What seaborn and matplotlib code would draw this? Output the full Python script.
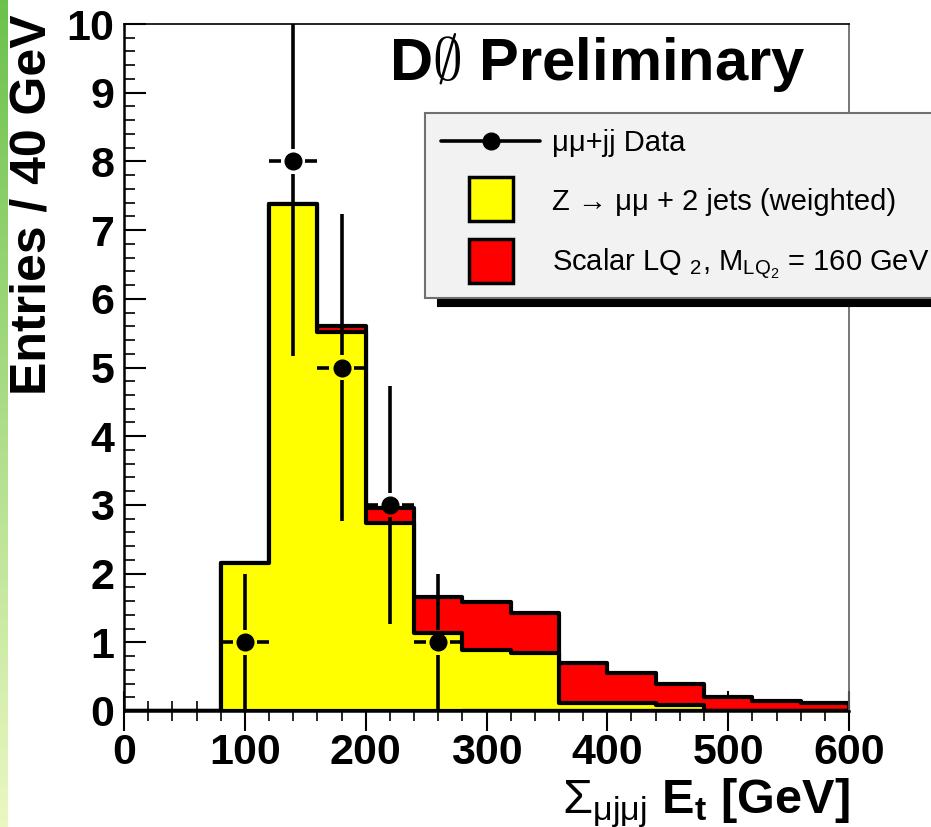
import numpy as np
import matplotlib
matplotlib.use('Agg')
import matplotlib.pyplot as plt
from matplotlib.lines import Line2D
from matplotlib.ticker import MultipleLocator
import seaborn as sns

# histogram contents, 40 GeV bins
bin_edges = [0, 40, 80, 120, 160, 200, 240, 280, 320, 360, 400, 440, 480, 520, 560, 600]
z_jets = [0.0, 0.0, 2.16, 7.38, 5.52, 2.73, 1.14, 0.89, 0.845, 0.12, 0.12, 0.09, 0.0, 0.0, 0.0]
lq_signal = [0.0, 0.0, 0.0, 0.0, 0.09, 0.22, 0.52, 0.70, 0.585, 0.58, 0.44, 0.31, 0.20, 0.14, 0.12]
other_edges = [280, 320, 360, 400, 440, 480, 520, 560, 600]
other_bkg = [0.0, 0.0, 0.0, 0.0, 0.0, 0.0, 0.0, 0.0]

# data points
data_x = [100, 140, 180, 220, 260]
data_n = [1, 8, 5, 3, 1]
half_bin = 20

x_ticks = [0, 100, 200, 300, 400, 500, 600]
y_ticks = [0, 1, 2, 3, 4, 5, 6, 7, 8, 9, 10]

sns.set_style('white')
plt.rcParams['font.family'] = ['Liberation Sans', 'DejaVu Sans']
plt.rcParams['text.color'] = 'black'
plt.rcParams['xtick.color'] = 'black'
plt.rcParams['ytick.color'] = 'black'
plt.rcParams['mathtext.fontset'] = 'custom'
plt.rcParams['mathtext.rm'] = 'Liberation Sans'
plt.rcParams['mathtext.it'] = 'Liberation Sans:italic'
plt.rcParams['mathtext.bf'] = 'Liberation Sans:bold'
plt.rcParams['mathtext.sf'] = 'Liberation Sans'

edges = np.array(bin_edges, dtype=float)
centers = (edges[:-1] + edges[1:]) / 2
total = np.array(z_jets) + np.array(lq_signal)
o_edges = np.array(other_edges, dtype=float)
o_centers = (o_edges[:-1] + o_edges[1:]) / 2

fig = plt.figure(figsize=(9.31, 8.27), dpi=100)
ax = fig.add_axes([124 / 931, 1 - 711 / 827, 725 / 931, 687 / 827])
ax.set_axisbelow(True)

# stacked: total (red) behind, Z+jets (yellow) in front
sns.histplot(x=centers, weights=total, bins=bin_edges, element='step', fill=True,
             color='#ff0000', edgecolor='black', linewidth=3, alpha=1, ax=ax)
sns.histplot(x=centers, weights=z_jets, bins=bin_edges, element='step', fill=True,
             color='#ffff00', edgecolor='black', linewidth=3, alpha=1, ax=ax)
sns.histplot(x=o_centers, weights=other_bkg, bins=other_edges, element='step', fill=False,
             color='black', linewidth=3, ax=ax)

# data with ROOT-like error bars (gap around marker)
gx, gy = 10, 0.18
for x, n in zip(data_x, data_n):
    e = np.sqrt(n)
    ax.vlines([x, x], [n - e, n + gy], [n - gy, n + e], color='black', lw=2.6, zorder=5)
    ax.hlines([n, n], [x - half_bin, x + gx], [x - gx, x + half_bin], color='black', lw=2.6, zorder=5)
ax.plot(data_x, data_n, 'o', color='black', ms=12, zorder=6)

ax.set_xlim(0, 600)
ax.set_ylim(0, 10)
ax.set_xlabel('')
ax.set_ylabel('')
ax.set_xticks(x_ticks)
ax.set_yticks(y_ticks)
ax.xaxis.set_minor_locator(MultipleLocator(20))
ax.yaxis.set_minor_locator(MultipleLocator(0.2))
ax.tick_params(axis='x', which='major', direction='inout', length=29, width=1.5,
               labelsize=31, pad=1, bottom=True, top=False, color='black')
ax.tick_params(axis='x', which='minor', direction='inout', length=14, width=1.2,
               bottom=True, top=False)
ax.tick_params(axis='y', which='major', direction='in', length=16, width=1.5,
               labelsize=31, pad=7, left=True, right=False, color='black')
ax.tick_params(axis='y', which='minor', direction='in', length=8, width=1.2,
               left=True, right=False)
plt.setp(ax.get_xticklabels() + ax.get_yticklabels(), fontweight='bold')

for side in ['left', 'bottom']:
    ax.spines[side].set_color('black')
    ax.spines[side].set_linewidth(1.8)
ax.spines['top'].set_color('black')
ax.spines['top'].set_linewidth(1.2)
ax.spines['right'].set_color('#606060')
ax.spines['right'].set_linewidth(1.2)

fig.text(597 / 931, 1 - 80 / 827, r'D$\emptyset$ Preliminary', ha='center', va='baseline',
         fontsize=43, fontweight='bold')
fig.text(33 / 931, 1 - 205 / 827, 'Entries / 40 GeV', rotation=90, ha='center', va='center',
         fontsize=36, fontweight='bold')
fig.text(850 / 931, 1 - 813 / 827, r'$\mathrm{Σ}_{\mathrm{μjμj}}$ $\mathbf{E_t}$ [GeV]',
         ha='right', va='baseline', fontsize=35, fontweight='bold')

handles = [
    Line2D([], [], color='black', lw=2.6, marker='o', ms=12),
    Line2D([], [], ls='none', marker='s', ms=31, mfc='#ffff00', mec='black', mew=2.5),
    Line2D([], [], ls='none', marker='s', ms=31, mfc='#ff0000', mec='black', mew=2.5),
]
labels = ['μμ+jj Data', 'Z → μμ + 2 jets (weighted)',
          r'Scalar LQ $_{2}$, M$_{\mathrm{LQ}_{2}}$ = 160 GeV']
leg = ax.legend(handles, labels, loc='upper left',
                bbox_to_anchor=(425 / 931, 1 - 292 / 827, 0.6, 179 / 827),
                bbox_transform=fig.transFigure, mode='expand', borderaxespad=0,
                fontsize=21, handlelength=3.4, handletextpad=0.4, borderpad=0.55,
                labelspacing=1.05, fancybox=False, framealpha=1,
                facecolor='#f2f2f2', edgecolor='#707070',
                shadow={'ox': 9, 'oy': -6, 'color': 'black', 'alpha': 1})
leg.get_frame().set_linewidth(1.5)

# green strip on the left edge of the page
strip = fig.add_axes([0, 0, 8 / 931, 1])
grad = np.linspace(0, 1, 256)[:, None, None]
top_c = np.array([0.42, 0.76, 0.30])
bot_c = np.array([0.92, 0.97, 0.76])
strip.imshow(top_c * (1 - grad) + bot_c * grad, aspect='auto')
strip.axis('off')

fig.savefig('out.png', dpi=100)
